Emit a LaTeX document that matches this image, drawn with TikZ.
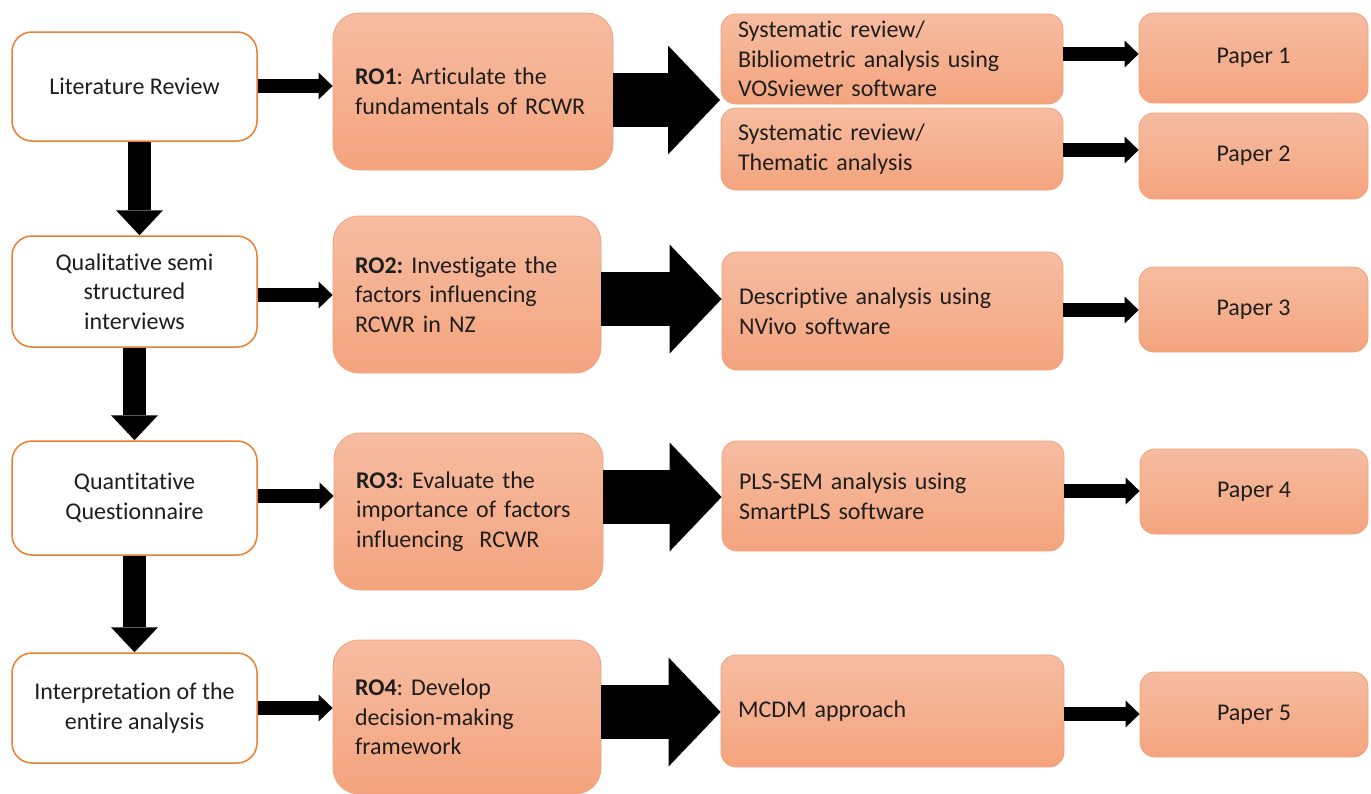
\documentclass[tikz,border=0pt]{standalone}
\usepackage{fontspec}
\setmainfont{Carlito}[Ligatures=NoCommon]
\usetikzlibrary{arrows.meta}

\definecolor{phaseedge}{HTML}{ED7D31}
\definecolor{peachtop}{HTML}{F6BCA1}
\definecolor{peachbot}{HTML}{F4A47E}
\definecolor{peachedge}{HTML}{F1A17A}
\definecolor{inkgray}{HTML}{1E1E1E}

\newcommand{\boxfont}{\fontsize{24}{29.5}\selectfont\frenchspacing}

\tikzset{
  phasebox/.style={draw=phaseedge, line width=1.5pt, fill=white, rounded corners=20pt,
    align=center, text=inkgray, font=\boxfont},
  peach/.style={draw=peachedge, line width=0.8pt, top color=peachtop, bottom color=peachbot,
    text=inkgray, font=\boxfont},
  objbox/.style={peach, rounded corners=26pt, align=left, inner xsep=22pt},
  methodbox/.style={peach, rounded corners=15pt, align=left, inner xsep=17pt},
  paperbox/.style={peach, rounded corners=15pt, align=center},
  thinarrow/.style={line width=14pt, -{Triangle[width=27pt,length=14pt,line width=0pt]}},
  downarrow/.style={line width=23pt, -{Triangle[width=47pt,length=25pt,line width=0pt]}},
  bigarrow/.style={line width=54pt, -{Triangle[width=109pt,length=52pt,line width=0pt]}},
}

\begin{document}
\begin{tikzpicture}[x=1pt, y=-1pt]
  \useasboundingbox (0,0) rectangle (1371,793);

  % Research phases
  \node[phasebox, minimum width=245pt, minimum height=109pt] (LR) at (134.5,86.5) {Literature Review};
  \node[phasebox, minimum width=245pt, minimum height=111pt] (QS) at (134.5,291.5) {Qualitative semi\\structured\\interviews};
  \node[phasebox, minimum width=245pt, minimum height=114pt] (QQ) at (134.5,498) {Quantitative\\Questionnaire};
  \node[phasebox, minimum width=245pt, minimum height=110pt] (IE) at (134.5,708) {Interpretation of the\\entire analysis};

  % Research objectives
  \node[objbox, text width=236pt, minimum height=157pt] (RO1) at (473,91.5) {\textbf{RO1}: Articulate the\\fundamentals of RCWR};
  \node[objbox, text width=224pt, minimum height=157pt] (RO2) at (467,294.5) {\textbf{RO2:} Investigate the\\factors influencing\\RCWR in NZ};
  \node[objbox, text width=225pt, minimum height=157pt] (RO3) at (468.5,511.5) {\textbf{RO3}: Evaluate the\\importance of factors\\influencing~ RCWR};
  \node[objbox, text width=224pt, minimum height=154pt] (RO4) at (467,717) {\textbf{RO4}: Develop\\decision-making\\framework};

  % Methods
  \node[methodbox, text width=308pt, minimum height=90pt] (M1a) at (892,59) {Systematic review/\\Bibliometric analysis using\\VOSviewer software};
  \node[methodbox, text width=308pt, minimum height=82pt] (M1b) at (892,149) {Systematic review/\\Thematic analysis};
  \node[methodbox, text width=307pt, minimum height=118pt] (M2) at (892.5,311) {Descriptive analysis using\\NVivo software};
  \node[methodbox, text width=308pt, minimum height=110pt] (M3) at (893,496) {PLS-SEM analysis using\\SmartPLS software};
  \node[methodbox, text width=309pt, minimum height=112pt] (M4) at (892.5,711) {MCDM approach};

  % Papers
  \node[paperbox, minimum width=229pt, minimum height=90pt] (P1) at (1253.5,58) {Paper 1};
  \node[paperbox, minimum width=229pt, minimum height=86pt] (P2) at (1253.5,156) {Paper 2};
  \node[paperbox, minimum width=229pt, minimum height=85pt] (P3) at (1253.5,309.5) {Paper 3};
  \node[paperbox, minimum width=228pt, minimum height=85pt] (P4) at (1254,491.5) {Paper 4};
  \node[paperbox, minimum width=228pt, minimum height=85pt] (P5) at (1254,714.5) {Paper 5};

  % Phase to phase
  \draw[downarrow] ([xshift=5pt]LR.south) -- ([xshift=5pt]QS.north);
  \draw[downarrow] (QS) -- (QQ);
  \draw[downarrow] (QQ) -- (IE);

  % Phase to objective
  \draw[thinarrow] (LR.east |- 0,86) -- (RO1.west |- 0,86);
  \draw[thinarrow] (QS.east |- 0,295) -- (RO2.west |- 0,295);
  \draw[thinarrow] (QQ.east |- 0,496) -- (RO3.west |- 0,496);
  \draw[thinarrow] (IE.east |- 0,708) -- (RO4.west |- 0,708);

  % Objective to method
  \coordinate (J1) at (720,100);
  \draw[bigarrow] (RO1.east |- J1) -- (J1);
  \draw[bigarrow] (RO2.east |- 0,299) -- (M2.west |- 0,299);
  \draw[bigarrow] (RO3.east |- 0,497) -- (M3.west |- 0,497);
  \draw[bigarrow] (RO4.east |- 0,712) -- (M4.west |- 0,712);

  % Method to paper
  \draw[thinarrow] (M1a.east |- 0,54) -- (P1.west |- 0,54);
  \draw[thinarrow] (M1b.east |- 0,150) -- (P2.west |- 0,150);
  \draw[thinarrow] (M2.east |- 0,310) -- (P3.west |- 0,310);
  \draw[thinarrow] (M3.east |- 0,491) -- (P4.west |- 0,491);
  \draw[thinarrow] (M4.east |- 0,714) -- (P5.west |- 0,714);
\end{tikzpicture}
\end{document}
